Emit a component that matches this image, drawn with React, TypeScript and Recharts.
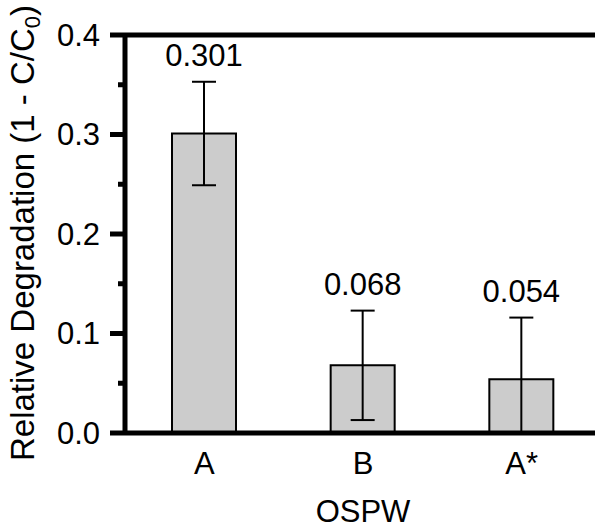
import { BarChart, Bar, XAxis, YAxis, ErrorBar, LabelList, ReferenceLine, Label } from "recharts";

const categories = ["A", "B", "A*"];
const degradation = [0.301, 0.068, 0.054];
const errors = [0.052, 0.055, 0.062];
const yTicks = [0, 0.05, 0.1, 0.15, 0.2, 0.25, 0.3, 0.35, 0.4];
const valueLabels = ["0.301", "0.068", "0.054"];

// lower whisker stops at the axis (the original plot clips it there)
const data = categories.map((name, i) => ({
  name,
  value: degradation[i],
  err: [Math.min(errors[i], degradation[i]), errors[i]],
}));

const FONT = "'Liberation Sans', Arial, sans-serif";

const YTick = ({ x, y, payload }: any) => {
  const major = Math.round(payload.value * 100) % 10 === 0;
  return (
    <g>
      <line x1={x} x2={x - (major ? 15 : 7)} y1={y} y2={y} stroke="#000" strokeWidth={5} />
      {major && (
        <text x={x - 25} y={y} textAnchor="end" dominantBaseline="central" fontSize={31} fontFamily={FONT} fill="#000">
          {payload.value.toFixed(1)}
        </text>
      )}
    </g>
  );
};

const XTick = ({ x, y, payload }: any) => (
  <text x={x} y={y + 41} textAnchor="middle" fontSize={31} fontFamily={FONT} fill="#000">
    {payload.value}
  </text>
);

const ValueLabel = ({ x, y, width, height, value, index }: any) => {
  const errPx = (errors[index] * height) / value;
  return (
    <text x={x + width / 2} y={y - errPx - 16} textAnchor="middle" fontSize={31} fontFamily={FONT} fill="#000">
      {valueLabels[index]}
    </text>
  );
};

const YTitle = () => (
  <text x={34} y={233} transform="rotate(-90, 34, 233)" textAnchor="middle" fontSize={33} fontFamily={FONT} fill="#000">
    Relative Degradation (1 - C/C
    <tspan fontSize={22} dy={6}>0</tspan>
    <tspan dy={-6}>)</tspan>
  </text>
);

const XTitle = ({ viewBox }: any) => (
  <text x={viewBox.x + viewBox.width / 2} y={522} textAnchor="middle" fontSize={31} fontFamily={FONT} fill="#000">
    OSPW
  </text>
);

export default function App() {
  return (
    <div style={{ position: "absolute", top: 0, left: 0, width: 595, height: 529, overflow: "hidden" }}>
      <BarChart width={601} height={529} data={data} margin={{ top: 35, right: 0, left: 8, bottom: 0 }}>
        <XAxis
          dataKey="name"
          height={96}
          tickLine={false}
          tickSize={0}
          tickMargin={0}
          axisLine={{ stroke: "#000", strokeWidth: 5 }}
          tick={<XTick />}
        >
          <Label content={<XTitle />} />
        </XAxis>
        <YAxis
          width={117}
          domain={[0, 0.4]}
          allowDataOverflow
          ticks={yTicks}
          interval={0}
          tickLine={false}
          tickSize={0}
          tickMargin={0}
          axisLine={{ stroke: "#000", strokeWidth: 5 }}
          tick={<YTick />}
        >
          <Label content={<YTitle />} />
        </YAxis>
        <ReferenceLine y={0.4} stroke="#000" strokeWidth={5} />
        <Bar dataKey="value" fill="#cccccc" stroke="#000" strokeWidth={2} barSize={64} isAnimationActive={false}>
          <ErrorBar dataKey="err" width={12} stroke="#000" strokeWidth={2} isAnimationActive={false} />
          <LabelList dataKey="value" content={<ValueLabel />} />
        </Bar>
      </BarChart>
    </div>
  );
}
